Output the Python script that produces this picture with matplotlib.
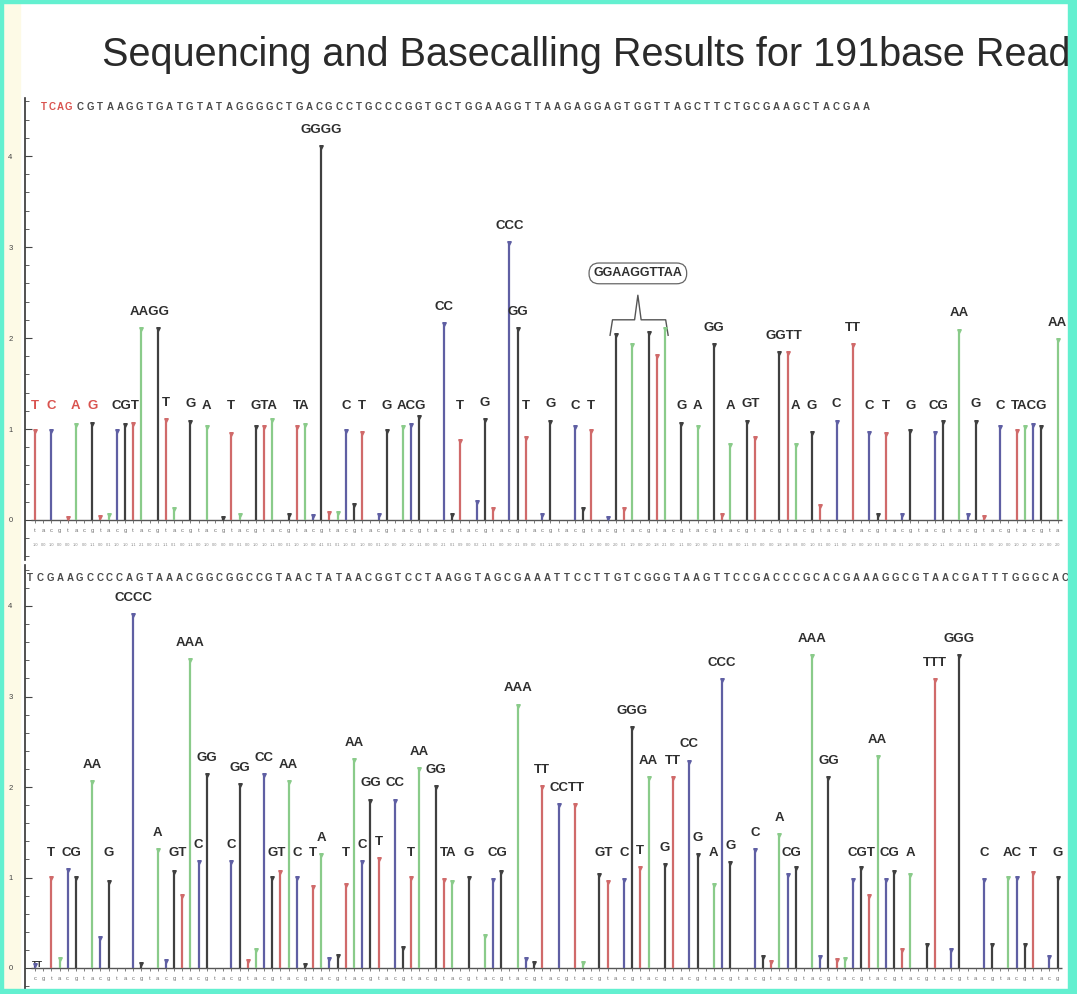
import matplotlib.pyplot as plt
from matplotlib.ticker import AutoMinorLocator
from matplotlib.patches import Rectangle

# flow order of the sequencer, repeated along the x axis
flow_order = "TACG"
base_colors = {"T": "#d06a6a", "A": "#8acb8a", "C": "#5f5fa3", "G": "#404040"}

# read sequences printed above each panel
top_key = "TCAG"
top_seq = "CGTAAGGTGATGTATAGGGGCTGACGCCTGCCCGGTGCTGGAAGGTTAAGAGGAGTGGTTAGCTTCTGCGAAGCTACGAA"
bottom_seq = "TCGAAGCCCCAGTAAACGGCGGCCGTAACTATAACGGTCCTAAGGTAGCGAAATTCCTTGTCGGGTAAGTTCCGACCCGCACGAAAGGCGTAACGATTTGGGCACTG"

# flow signal, flows 0..125 (one row = one T A C G cycle)
top_heights = [
    0.98, 0.00, 0.98, 0.00,
    0.02, 1.04, 0.00, 1.06,
    0.03, 0.05, 0.98, 1.04,
    1.06, 2.10, 0.00, 2.10,
    1.10, 0.12, 0.00, 1.08,
    0.00, 1.02, 0.00, 0.02,
    0.95, 0.06, 0.00, 1.02,
    1.02, 1.10, 0.00, 0.05,
    1.02, 1.04, 0.04, 4.10,
    0.08, 0.08, 0.98, 0.17,
    0.96, 0.00, 0.06, 0.98,
    0.00, 1.02, 1.04, 1.13,
    0.00, 0.00, 2.15, 0.05,
    0.87, 0.00, 0.20, 1.10,
    0.12, 0.00, 3.04, 2.10,
    0.90, 0.00, 0.06, 1.08,
    0.00, 0.00, 1.02, 0.12,
    0.98, 0.00, 0.02, 2.03,
    0.12, 1.92, 0.00, 2.05,
    1.80, 2.10, 0.00, 1.06,
    0.00, 1.02, 0.00, 1.92,
    0.05, 0.82, 0.00, 1.08,
    0.90, 0.00, 0.00, 1.83,
    1.83, 0.82, 0.00, 0.96,
    0.15, 0.00, 1.08, 0.00,
    1.92, 0.00, 0.96, 0.05,
    0.94, 0.00, 0.05, 0.98,
    0.00, 0.00, 0.96, 1.08,
    0.00, 2.08, 0.06, 1.08,
    0.03, 0.00, 1.02, 0.00,
    0.98, 1.02, 1.04, 1.02,
    0.00, 1.98,
]

# flow signal, flows 126..251 (starts on C G, then full cycles)
bottom_heights = [
                0.03, 0.00,
    1.00, 0.10, 1.08, 1.00,
    0.00, 2.05, 0.33, 0.95,
    0.00, 0.00, 3.90, 0.04,
    0.00, 1.30, 0.08, 1.06,
    0.80, 3.40, 1.17, 2.13,
    0.00, 0.00, 1.17, 2.02,
    0.08, 0.20, 2.13, 1.00,
    1.06, 2.05, 1.00, 0.03,
    0.90, 1.25, 0.10, 0.13,
    0.92, 2.30, 1.17, 1.85,
    1.20, 0.00, 1.85, 0.22,
    1.00, 2.20, 0.00, 2.00,
    0.97, 0.95, 0.00, 1.00,
    0.00, 0.35, 0.97, 1.06,
    0.00, 2.90, 0.10, 0.05,
    2.00, 0.00, 1.80, 0.00,
    1.80, 0.05, 0.00, 1.03,
    0.95, 0.00, 0.97, 2.65,
    1.10, 2.10, 0.00, 1.14,
    2.10, 0.00, 2.28, 1.25,
    0.00, 0.92, 3.18, 1.16,
    0.00, 0.00, 1.30, 0.12,
    0.07, 1.47, 1.03, 1.10,
    0.00, 3.45, 0.12, 2.10,
    0.09, 0.10, 0.97, 1.10,
    0.80, 2.33, 0.97, 1.06,
    0.20, 1.03, 0.00, 0.25,
    3.18, 0.00, 0.20, 3.45,
    0.00, 0.00, 0.97, 0.25,
    0.00, 1.00, 1.00, 0.25,
    1.05, 0.00, 0.12, 1.00,
]

key_flows = [0, 2, 5, 7]
bracket_flows = list(range(71, 78))
bracket_label = "GGAAGGTTAA"

W, H = 1077, 994
plt.rcParams["font.family"] = ["Liberation Sans", "DejaVu Sans"]
fig = plt.figure(figsize=(W / 100, H / 100), dpi=100)
fig.patch.set_facecolor("white")

# pale strip on the left and turquoise frame
fig.patches.append(Rectangle((3 / W, 0), 17 / W, 1, transform=fig.transFigure,
                             color="#fdfae6", zorder=-5))
for r in [(0, 0, 3 / W, 1), (1068 / W, 0, 9 / W, 1), (0, 0, 1, 5 / H), (0, 1 - 3 / H, 1, 3 / H)]:
    fig.patches.append(Rectangle((r[0], r[1]), r[2], r[3], transform=fig.transFigure,
                                 color="#63f0d0", zorder=10))

fig.text(586 / W, 1 - 55 / H, "Sequencing and Basecalling Results for 191base Read",
         ha="center", va="center", fontsize=28.5, color="#2a2a2a")

px_flow = 8.18
x_left = -10 / px_flow
x_right = (1066 - 35) / px_flow


def make_axes(top_px, bottom_px, base_px, unit_px):
    ax = fig.add_axes([25 / W, 1 - bottom_px / H, (1066 - 25) / W, (bottom_px - top_px) / H])
    ax.set_xlim(x_left, x_right)
    ax.set_ylim(-(bottom_px - base_px) / unit_px, (base_px - top_px) / unit_px)
    for s in ["top", "right", "bottom"]:
        ax.spines[s].set_visible(False)
    ax.spines["left"].set_color("#333333")
    ax.spines["left"].set_linewidth(1.2)
    ax.set_xticks([])
    ax.set_yticks([0, 1, 2, 3, 4])
    ax.yaxis.set_minor_locator(AutoMinorLocator(5))
    ax.tick_params(axis="y", which="both", direction="in", colors="#444444")
    ax.tick_params(axis="y", which="major", length=5, labelsize=5.5, pad=9)
    ax.tick_params(axis="y", which="minor", length=3)
    ax.patch.set_alpha(0)
    return ax


def draw_panel(ax, heights, first_flow, label_row, skip=(), red=()):
    n = len(heights)
    ax.hlines(0, -0.5, n - 0.5, color="#555555", lw=1.0)
    ax.vlines(range(n), -0.035, 0, color="#666666", lw=0.6)
    labels = []
    for i, h in enumerate(heights):
        base = flow_order[(first_flow + i) % 4]
        col = base_colors[base]
        if h > 0:
            ax.vlines(i, 0, h, color=col, lw=1.6, zorder=3)
            ax.plot(i, h, marker="v", ms=2.6, color=col, zorder=4)
        ax.text(i, -0.12, base.lower(), fontsize=4.2, color="#6f6f6f", ha="center",
                va="center", clip_on=False)
        ax.text(i, -0.27, f"{h:.1f}", fontsize=2.8, color="#888888", ha="center",
                va="center", clip_on=False)
        count = int(round(h))
        if count >= 1 and i not in skip:
            y = max(label_row, h + 0.19)
            labels.append([i, i, y, base * count, "#d9534f" if i in red else "#2e2e2e"])

    # neighbouring flows on the same row share one label
    merged = []
    for lab in labels:
        if merged:
            last = merged[-1]
            gap = lab[0] - last[1]
            close = gap == 1 or (gap == 2 and len(lab[3]) + len(last[3]) > 3)
            if close and abs(lab[2] - last[2]) < 0.15 and lab[4] == last[4]:
                last[1] = lab[0]
                last[3] += lab[3]
                continue
        merged.append(lab)
    for x0, x1, y, txt, col in merged:
        ax.text((x0 + x1) / 2, y, txt, ha="center", va="center", fontsize=9.5,
                fontweight="bold", color=col, zorder=5)


def draw_sequence(ax, x0, y, seq, step, color):
    for k, ch in enumerate(seq):
        ax.text(x0 + k * step, y, ch, ha="center", va="center", fontsize=7,
                fontweight="bold", color=color, clip_on=False)


step = 9.95 / px_flow

# top panel
ax1 = make_axes(98, 560, 520, 91)
draw_panel(ax1, top_heights, 0, 1.25, skip=bracket_flows, red=key_flows)
draw_sequence(ax1, (44 - 35) / px_flow, (520 - 107) / 91, top_key, 8.0 / px_flow, "#d9534f")
draw_sequence(ax1, (80 - 35) / px_flow, (520 - 107) / 91, top_seq, step, "#4a4a4a")

# brace over the GGAAGGTTAA stretch
bx = [70.3, 70.6, 73.3, 73.7, 74.1, 77.1, 77.4]
by = [2.03, 2.20, 2.20, 2.47, 2.20, 2.20, 2.03]
ax1.plot(bx, by, color="#555555", lw=1.0)
ax1.text(73.7, 2.71, bracket_label, ha="center", va="center", fontsize=9,
         fontweight="bold", color="#2e2e2e",
         bbox=dict(boxstyle="round,pad=0.35,rounding_size=0.8", fc="white", ec="#666666", lw=0.9))

# bottom panel
ax2 = make_axes(565, 994, 968, 90.5)
draw_panel(ax2, bottom_heights, 126, 1.27)
draw_sequence(ax2, (30 - 35) / px_flow, (968 - 578) / 90.5, bottom_seq, step, "#4a4a4a")
ax2.text(0.3, 0.04, "TT", ha="center", va="center", fontsize=6.5, fontweight="bold",
         color="#2e2e2e")

fig.savefig("out.png", dpi=100)
